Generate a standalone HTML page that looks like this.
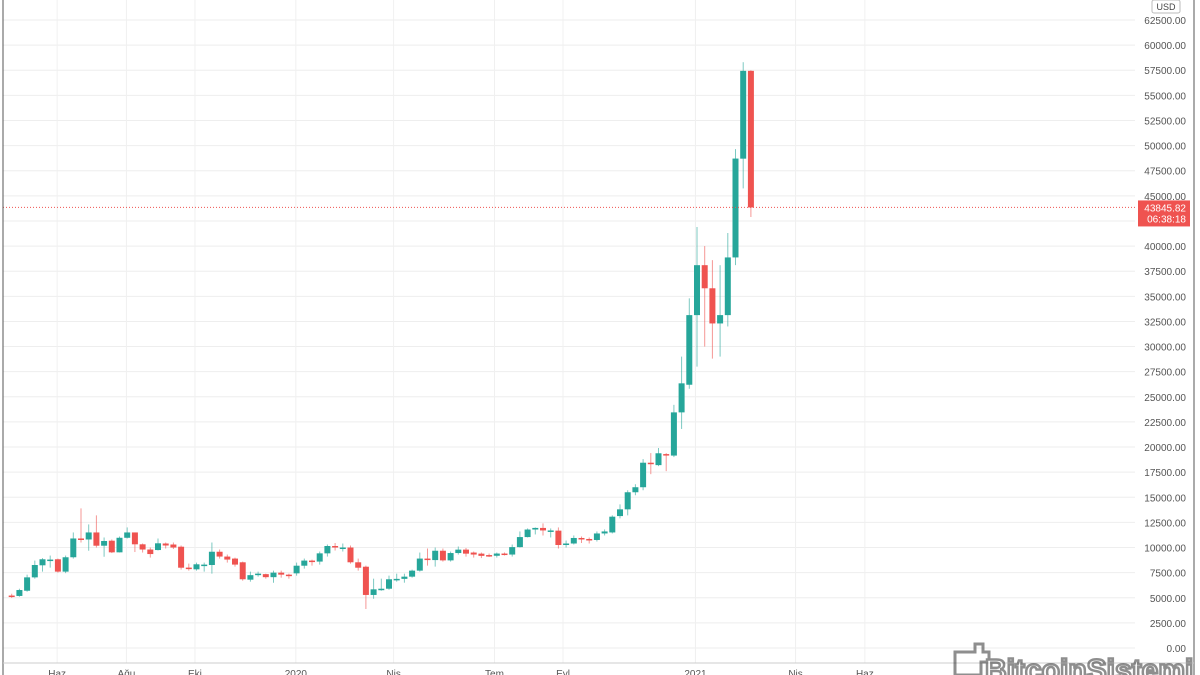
<!DOCTYPE html>
<html><head><meta charset="utf-8"><style>
html,body{margin:0;padding:0;background:#fff;}
svg{display:block;font-family:"Liberation Sans",sans-serif;}
</style></head><body>
<svg id="chart" width="1200" height="675" viewBox="0 0 1200 675" xmlns="http://www.w3.org/2000/svg">
<rect x="0" y="0" width="1200" height="675" fill="#fff"/>
<g id="grid"></g>
<g id="candles"></g>
<g id="axis"></g>
<g id="xaxis"></g>
<line x1="3" y1="0" x2="3" y2="675" stroke="#555" stroke-width="1"/>
<line x1="1194" y1="0" x2="1194" y2="675" stroke="#555" stroke-width="1"/>
<line x1="3" y1="663" x2="1194" y2="663" stroke="#ccc" stroke-width="1"/>
<g><rect x="1152" y="0" width="28" height="13" rx="2" fill="#fff" stroke="#bbb"/><text x="1166" y="10" font-size="9" fill="#444" text-anchor="middle">USD</text></g>
<g opacity="0.55">
<path d="M955 652 h20 v-8 h8 v8 h6 v10 h-8 v13 h-26 z" fill="none" stroke="#333" stroke-width="3"/>
<text x="985" y="680" font-size="30" font-weight="bold" fill="#fff" stroke="#333" stroke-width="2.5">BitcoinSistemi</text>
</g>
</svg>
<script>
const opens =[5220,5180,5700,7030,8230,8700,8830,7600,9030,10900,10800,11500,10180,10680,9520,10970,11500,10320,9800,9750,10400,10300,10080,8000,7830,8250,8260,9580,9100,8900,8530,6800,7250,7350,7050,7500,7300,7430,8190,8700,8600,9420,10150,9950,10000,8530,8090,5280,5840,5900,6780,6880,7100,7700,8900,8750,9680,8720,9450,9790,9500,9390,9250,9180,9400,9300,10040,11040,11790,11950,11650,11680,10250,10400,10950,10850,10750,11400,11500,13130,13800,15500,16000,18440,18200,19300,19150,23450,26200,33130,38100,35800,32300,33130,38870,48700,57440];
const highs =[5400,5900,7300,8700,8950,9200,8900,9200,11500,13900,12300,13200,11000,10800,11100,12000,11500,10400,10000,10900,10500,10500,10200,8400,8500,8500,10500,9800,9300,9000,8600,7600,7600,7400,7700,7700,7400,8500,8900,8800,9600,10300,10450,10400,10200,8900,8200,6900,6900,7200,7400,7400,7800,9500,9900,10000,9900,9600,10100,9950,9600,9500,9400,9500,9500,10300,11600,11900,12000,12400,11900,12000,10700,11200,11100,11000,11600,11800,13200,14300,15700,16300,18800,19400,19900,19400,24200,29000,34800,41900,40000,38600,38100,41300,49650,58300,57500];
const lows  =[4980,5100,5600,6900,7600,8000,7500,7450,8900,10500,9680,10000,9080,9450,9500,10900,9550,9500,9000,9700,9900,9850,7800,7700,7700,7600,7400,8900,8500,8100,6700,6600,7100,6900,6500,7000,6900,7200,7900,8200,8300,9100,9700,9600,8400,7700,3880,4900,5700,5800,6600,6500,7000,7600,8200,8100,8600,8600,9300,9100,9000,8950,9050,9000,9200,9100,10000,11000,11300,11200,11000,9900,10000,10300,10450,10400,10600,11200,11400,12900,13200,15200,15700,17300,18100,17600,19000,21800,25800,28000,30000,28800,29000,32000,38100,45740,42900];
const closes=[5080,5770,7030,8260,8830,8800,7600,9030,10900,10800,11500,10180,10650,9520,10970,11500,10320,9800,9350,10420,10200,10000,7990,7900,8330,8300,9580,9100,8800,8300,6840,7250,7400,7050,7500,7300,7200,8190,8700,8600,9420,10150,10000,10000,8530,7990,5280,5840,5900,6840,6880,7100,7700,8900,8750,9680,8720,9450,9790,9390,9300,9170,9180,9400,9300,10040,11040,11790,11950,11700,11700,10250,10400,10950,10800,10750,11400,11600,13070,13800,15500,16000,18440,18300,19380,19180,23450,26340,33130,38100,35800,32300,33130,38870,48710,57440,43845.82];
const yTicks=[0,2500,5000,7500,10000,12500,15000,17500,20000,22500,25000,27500,30000,32500,35000,37500,40000,42500,45000,47500,50000,52500,55000,57500,60000,62500];
const xLabels=["Haz","Ağu","Eki","2020","Nis","Tem","Eyl","2021","Nis","Haz"];
const xLabelIdx=[5.9,14.9,23.8,36.9,49.6,62.7,71.6,88.8,101.8,110.8];
const lastPrice=43845.82;

const NS="http://www.w3.org/2000/svg";
const y=v=>648-v*0.010048;
const x=i=>11.7+i*7.7;
function mk(tag,attrs,parent){const e=document.createElementNS(NS,tag);for(const k in attrs)e.setAttribute(k,attrs[k]);parent.appendChild(e);return e;}
const grid=document.getElementById('grid'),cg=document.getElementById('candles'),ax=document.getElementById('axis'),xa=document.getElementById('xaxis');
yTicks.forEach(v=>{
  const l=mk('line',{x1:3,x2:1135,y1:y(v),y2:y(v),stroke:'#eeeeee','stroke-width':1},grid);
  
  
  const t=mk('text',{x:1186,y:y(v)+4,'font-size':10,fill:'#555','text-anchor':'end'},ax);
  t.textContent=v.toFixed(2);
  
  
});
xLabels.forEach((s,k)=>{
  const px=x(xLabelIdx[k]);
  const l=mk('line',{x1:px,x2:px,y1:0,y2:663,stroke:'#f0f0f0','stroke-width':1},grid);
  
  
  const t=mk('text',{x:px,y:677,'font-size':10,fill:'#555','text-anchor':'middle'},xa);
  t.textContent=s;
  
  
});
closes.forEach((c,i)=>{
  const o=opens[i],up=c>=o,col=up?'#26a69a':'#ef5350',cx=x(i);
  const g=mk('g',{},cg);
  
  
  mk('line',{x1:cx,x2:cx,y1:y(highs[i]),y2:y(lows[i]),stroke:col,'stroke-width':1,opacity:0.6},g);
  const top=y(Math.max(o,c)),bot=y(Math.min(o,c));
  mk('rect',{x:cx-3,y:top,width:6,height:Math.max(1.5,bot-top),fill:col},g);
});
const py=y(lastPrice);
const pl=mk('line',{x1:3,x2:1135,y1:py,y2:py,stroke:'#ef5350','stroke-width':1,'stroke-dasharray':'1,2'},ax);


const lb=mk('g',{},ax);


mk('rect',{x:1138,y:py-7,width:52,height:26,fill:'#ef5350'},lb);
const t1=mk('text',{x:1186,y:py+4,'font-size':10,fill:'#fff','text-anchor':'end'},lb);t1.textContent=lastPrice.toFixed(2);
const t2=mk('text',{x:1186,y:py+15,'font-size':10,fill:'#fff','text-anchor':'end'},lb);t2.textContent='06:38:18';
</script>
</body></html>
